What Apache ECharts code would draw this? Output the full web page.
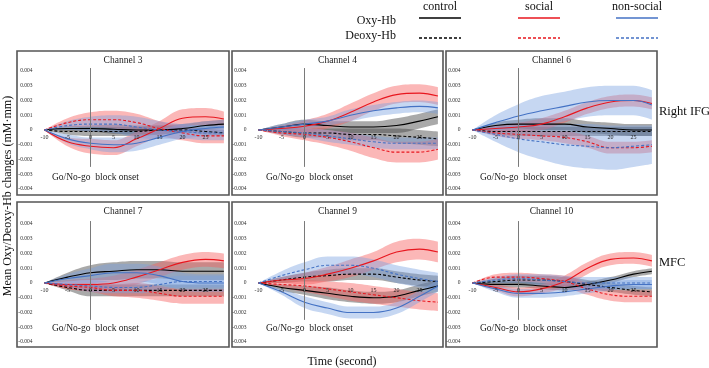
<!DOCTYPE html>
<html><head><meta charset="utf-8">
<script src="https://cdn.jsdelivr.net/npm/echarts@6/dist/echarts.min.js"></script>
<style>html,body{margin:0;padding:0;background:#fff}#c{width:709px;height:368px}</style>
</head><body><div id="c"></div>
<script>
// ---- data ----
const times = [-10, -5, 0, 5, 10, 15, 20, 25, 29];
const channels = ['Channel 3', 'Channel 4', 'Channel 6', 'Channel 7', 'Channel 9', 'Channel 10'];
const conditions = ['control', 'social', 'non-social'];
const hbTypes = ['Oxy-Hb', 'Deoxy-Hb'];
const regionLabels = ['Right IFG', 'MFC'];
const onsetLine = [[0, 0.0042], [0, -0.0025]];

// Channel 3
const ch3_control_oxy = [0, 0.0001, 0.0001, 0.00005, 0, 0, 0.0001, 0.0003, 0.0004];
const ch3_control_deoxy = [0, -0.0001, -0.0001, -0.0001, -0.0001, 0, 0, -0.0001, -0.0002];
const ch3_social_oxy = [0, -0.0008, -0.0011, -0.0012, -0.0006, 0.0001, 0.0008, 0.0009, 0.00075];
const ch3_social_deoxy = [0, 0.0005, 0.0007, 0.0007, 0.0005, 0.0001, -0.0002, -0.0004, -0.0004];
const ch3_nonsocial_oxy = [0, -0.0006, -0.0009, -0.001, -0.0009, -0.0005, -0.0001, 0.0001, 0.0002];
const ch3_nonsocial_deoxy = [0, 0.0003, 0.0004, 0.0004, 0.0002, 0, -0.0001, -0.0002, -0.0002];
const ch3_control_oxy_se = [0, 0.00015, 0.0002, 0.0003, 0.0003, 0.0003, 0.0003, 0.0003, 0.0003];
const ch3_control_deoxy_se = [0, 0.0002, 0.0003, 0.0003, 0.0003, 0.0003, 0.0002, 0.0002, 0.0002];
const ch3_social_oxy_se = [0, 0.0003, 0.0005, 0.0005, 0.0005, 0.0005, 0.0006, 0.0006, 0.0005];
const ch3_social_deoxy_se = [0, 0.0003, 0.0005, 0.0006, 0.0006, 0.0005, 0.0005, 0.0005, 0.0005];
const ch3_nonsocial_oxy_se = [0, 0.0003, 0.0004, 0.0005, 0.0005, 0.0005, 0.0005, 0.0005, 0.0005];
const ch3_nonsocial_deoxy_se = [0, 0.0003, 0.0005, 0.0006, 0.0007, 0.0006, 0.0005, 0.0005, 0.0005];

// Channel 4
const ch4_control_oxy = [0, 0.0002, 0.0004, 0.0003, 0.0002, 0.0002, 0.0003, 0.0006, 0.0009];
const ch4_control_deoxy = [0, -0.0001, -0.0002, -0.0002, -0.0003, -0.0003, -0.0004, -0.0005, -0.0006];
const ch4_social_oxy = [0, 0.0001, 0.00025, 0.0006, 0.0012, 0.0019, 0.0024, 0.0025, 0.0023];
const ch4_social_deoxy = [0, -0.0002, -0.0003, -0.0005, -0.0008, -0.0012, -0.0015, -0.0015, -0.0013];
const ch4_nonsocial_oxy = [0, 0.0002, 0.0004, 0.0006, 0.001, 0.0013, 0.0015, 0.0016, 0.0015];
const ch4_nonsocial_deoxy = [0, -0.0001, -0.0002, -0.0004, -0.0006, -0.0008, -0.0009, -0.0009, -0.0009];
const ch4_control_oxy_se = [0, 0.0002, 0.0003, 0.0003, 0.0004, 0.0004, 0.0005, 0.0005, 0.0005];
const ch4_control_deoxy_se = [0, 0.0002, 0.0003, 0.0003, 0.0004, 0.0004, 0.0005, 0.0005, 0.0005];
const ch4_social_oxy_se = [0, 0.0002, 0.0004, 0.0005, 0.0006, 0.0006, 0.0006, 0.0006, 0.0006];
const ch4_social_deoxy_se = [0, 0.0002, 0.0004, 0.0005, 0.0006, 0.0007, 0.0007, 0.0007, 0.0007];
const ch4_nonsocial_oxy_se = [0, 0.0002, 0.0003, 0.0003, 0.0004, 0.0004, 0.0004, 0.0004, 0.0004];
const ch4_nonsocial_deoxy_se = [0, 0.0002, 0.0003, 0.0004, 0.0004, 0.0004, 0.0004, 0.0004, 0.0004];

// Channel 6
const ch6_control_oxy = [0, 0.0003, 0.0004, 0.0004, 0.0004, 0.0002, 0.0001, 0, 0];
const ch6_control_deoxy = [0, -0.0001, -0.0001, -0.0001, -0.0001, -0.0001, -0.0001, -0.0001, -0.0001];
const ch6_social_oxy = [0, 0.0001, 0.0002, 0.0004, 0.0009, 0.0015, 0.0019, 0.002, 0.0018];
const ch6_social_deoxy = [0, -0.0002, -0.0003, -0.0004, -0.0005, -0.0008, -0.0012, -0.0012, -0.0011];
const ch6_nonsocial_oxy = [0, 0.0005, 0.00095, 0.0013, 0.0016, 0.0019, 0.002, 0.002, 0.0017];
const ch6_nonsocial_deoxy = [0, -0.0003, -0.0006, -0.0008, -0.001, -0.0011, -0.0012, -0.0011, -0.001];
const ch6_control_oxy_se = [0, 0.0002, 0.0003, 0.0004, 0.0004, 0.0004, 0.0004, 0.0004, 0.0004];
const ch6_control_deoxy_se = [0, 0.0002, 0.0003, 0.0003, 0.0003, 0.0003, 0.0003, 0.0003, 0.0003];
const ch6_social_oxy_se = [0, 0.0002, 0.0003, 0.0004, 0.0004, 0.0004, 0.0004, 0.0004, 0.0004];
const ch6_social_deoxy_se = [0, 0.0002, 0.0003, 0.0003, 0.0004, 0.0004, 0.0004, 0.0004, 0.0004];
const ch6_nonsocial_oxy_se = [0, 0.0005, 0.0008, 0.001, 0.001, 0.001, 0.001, 0.001, 0.001];
const ch6_nonsocial_deoxy_se = [0, 0.0005, 0.0009, 0.0012, 0.0014, 0.0015, 0.0015, 0.0014, 0.0013];

// Channel 7
const ch7_control_oxy = [0, 0.0004, 0.0007, 0.0008, 0.0009, 0.0009, 0.0008, 0.0008, 0.0008];
const ch7_control_deoxy = [0, -0.0003, -0.0005, -0.0005, -0.0005, -0.0005, -0.0005, -0.0005, -0.0005];
const ch7_social_oxy = [0, -0.0001, -0.0001, 0, 0.0004, 0.0009, 0.0014, 0.0016, 0.0015];
const ch7_social_deoxy = [0, -0.0002, -0.0003, -0.0005, -0.0005, -0.0007, -0.0009, -0.0009, -0.0009];
const ch7_nonsocial_oxy = [0, 0.0003, 0.0005, 0.0007, 0.0007, 0.0005, 0.0001, 0, 0];
const ch7_nonsocial_deoxy = [0, -0.0001, -0.0002, -0.0003, -0.0003, -0.0001, 0.0001, 0.0001, 0.0001];
const ch7_control_oxy_se = [0, 0.0003, 0.0005, 0.0006, 0.0006, 0.0006, 0.0006, 0.0006, 0.0006];
const ch7_control_deoxy_se = [0, 0.0002, 0.0004, 0.0004, 0.0004, 0.0004, 0.0004, 0.0004, 0.0004];
const ch7_social_oxy_se = [0, 0.0003, 0.0004, 0.0005, 0.0005, 0.0005, 0.0005, 0.0005, 0.0005];
const ch7_social_deoxy_se = [0, 0.0002, 0.0003, 0.0004, 0.0005, 0.0005, 0.0005, 0.0005, 0.0005];
const ch7_nonsocial_oxy_se = [0, 0.0003, 0.0005, 0.0006, 0.0006, 0.0006, 0.0006, 0.0006, 0.0006];
const ch7_nonsocial_deoxy_se = [0, 0.0002, 0.0004, 0.0004, 0.0004, 0.0004, 0.0004, 0.0004, 0.0004];

// Channel 9
const ch9_control_oxy = [0, -0.0003, -0.0005, -0.0007, -0.0009, -0.001, -0.0009, -0.0005, -0.0002];
const ch9_control_deoxy = [0, 0.0002, 0.0004, 0.0005, 0.0006, 0.0006, 0.0004, 0.0002, 0.0001];
const ch9_social_oxy = [0, 0.0002, 0.0003, 0.0006, 0.001, 0.0015, 0.0021, 0.0023, 0.0021];
const ch9_social_deoxy = [0, -0.0001, -0.0002, -0.0004, -0.0006, -0.0008, -0.001, -0.0012, -0.0013];
const ch9_nonsocial_oxy = [0, -0.0006, -0.0013, -0.0017, -0.002, -0.002, -0.0017, -0.0009, -0.0002];
const ch9_nonsocial_deoxy = [0, 0.0005, 0.0009, 0.0012, 0.0012, 0.001, 0.0006, 0.0003, 0.0001];
const ch9_control_oxy_se = [0, 0.0002, 0.0003, 0.0004, 0.0004, 0.0004, 0.0004, 0.0004, 0.0004];
const ch9_control_deoxy_se = [0, 0.0002, 0.0003, 0.0004, 0.0004, 0.0004, 0.0004, 0.0004, 0.0004];
const ch9_social_oxy_se = [0, 0.0002, 0.0004, 0.0005, 0.0006, 0.0006, 0.0007, 0.0007, 0.0007];
const ch9_social_deoxy_se = [0, 0.0002, 0.0004, 0.0005, 0.0006, 0.0006, 0.0006, 0.0006, 0.0006];
const ch9_nonsocial_oxy_se = [0, 0.0002, 0.0004, 0.0004, 0.0004, 0.0004, 0.0004, 0.0004, 0.0004];
const ch9_nonsocial_deoxy_se = [0, 0.0003, 0.0005, 0.0006, 0.0006, 0.0006, 0.0006, 0.0006, 0.0006];

// Channel 10
const ch10_control_oxy = [0, -0.0001, -0.0001, -0.0002, -0.0003, -0.0001, 0.0002, 0.0006, 0.0008];
const ch10_control_deoxy = [0, 0.0001, 0.0002, 0.0002, 0.0001, -0.0001, -0.0003, -0.0005, -0.0006];
const ch10_social_oxy = [0, -0.0003, -0.0006, -0.0004, 0.0001, 0.001, 0.0016, 0.0017, 0.0015];
const ch10_social_deoxy = [0, 0.0004, 0.0004, 0.0003, 0.0001, -0.0004, -0.0008, -0.0009, -0.0009];
const ch10_nonsocial_oxy = [0, -0.0004, -0.0007, -0.0007, -0.0006, -0.0004, -0.0002, -0.0001, -0.0001];
const ch10_nonsocial_deoxy = [0, 0.0002, 0.0003, 0.0002, 0.0001, 0, 0, 0, 0];
const ch10_control_oxy_se = [0, 0.0002, 0.0002, 0.0002, 0.0002, 0.0002, 0.0002, 0.0002, 0.0002];
const ch10_control_deoxy_se = [0, 0.0002, 0.0003, 0.0003, 0.0003, 0.0003, 0.0003, 0.0003, 0.0003];
const ch10_social_oxy_se = [0, 0.0002, 0.0003, 0.0003, 0.0004, 0.0004, 0.0004, 0.0004, 0.0004];
const ch10_social_deoxy_se = [0, 0.0002, 0.0003, 0.0003, 0.0004, 0.0004, 0.0004, 0.0004, 0.0004];
const ch10_nonsocial_oxy_se = [0, 0.0002, 0.0003, 0.0003, 0.0003, 0.0003, 0.0003, 0.0003, 0.0003];
const ch10_nonsocial_deoxy_se = [0, 0.0002, 0.0003, 0.0004, 0.0004, 0.0004, 0.0004, 0.0004, 0.0004];

// ---- assembly ----
const panelData = [
  [[ch3_control_oxy, ch3_control_oxy_se, ch3_control_deoxy, ch3_control_deoxy_se],
   [ch3_social_oxy, ch3_social_oxy_se, ch3_social_deoxy, ch3_social_deoxy_se],
   [ch3_nonsocial_oxy, ch3_nonsocial_oxy_se, ch3_nonsocial_deoxy, ch3_nonsocial_deoxy_se]],
  [[ch4_control_oxy, ch4_control_oxy_se, ch4_control_deoxy, ch4_control_deoxy_se],
   [ch4_social_oxy, ch4_social_oxy_se, ch4_social_deoxy, ch4_social_deoxy_se],
   [ch4_nonsocial_oxy, ch4_nonsocial_oxy_se, ch4_nonsocial_deoxy, ch4_nonsocial_deoxy_se]],
  [[ch6_control_oxy, ch6_control_oxy_se, ch6_control_deoxy, ch6_control_deoxy_se],
   [ch6_social_oxy, ch6_social_oxy_se, ch6_social_deoxy, ch6_social_deoxy_se],
   [ch6_nonsocial_oxy, ch6_nonsocial_oxy_se, ch6_nonsocial_deoxy, ch6_nonsocial_deoxy_se]],
  [[ch7_control_oxy, ch7_control_oxy_se, ch7_control_deoxy, ch7_control_deoxy_se],
   [ch7_social_oxy, ch7_social_oxy_se, ch7_social_deoxy, ch7_social_deoxy_se],
   [ch7_nonsocial_oxy, ch7_nonsocial_oxy_se, ch7_nonsocial_deoxy, ch7_nonsocial_deoxy_se]],
  [[ch9_control_oxy, ch9_control_oxy_se, ch9_control_deoxy, ch9_control_deoxy_se],
   [ch9_social_oxy, ch9_social_oxy_se, ch9_social_deoxy, ch9_social_deoxy_se],
   [ch9_nonsocial_oxy, ch9_nonsocial_oxy_se, ch9_nonsocial_deoxy, ch9_nonsocial_deoxy_se]],
  [[ch10_control_oxy, ch10_control_oxy_se, ch10_control_deoxy, ch10_control_deoxy_se],
   [ch10_social_oxy, ch10_social_oxy_se, ch10_social_deoxy, ch10_social_deoxy_se],
   [ch10_nonsocial_oxy, ch10_nonsocial_oxy_se, ch10_nonsocial_deoxy, ch10_nonsocial_deoxy_se]]
];

const FONT = '"Liberation Serif", "Times New Roman", serif';
const lineColors = ['#000000', '#e8161e', '#4472c4'];
const bandColors = ['rgba(60,60,60,0.44)', 'rgba(245,90,90,0.44)', 'rgba(120,160,225,0.42)'];

const colX = [44.5, 258.5, 472.5];
const rowTop = [71, 224];
const boxX = [17, 232, 446];
const boxW = [212, 211, 211];
const boxTop = [51, 202];
const boxH = [144, 145];
const plotW = 179.4, plotH = 118;

const grids = [], xAxes = [], yAxes = [], series = [], graphics = [];
for (let p = 0; p < 6; p++) {
  const col = p % 3, row = Math.floor(p / 3);
  grids.push({ left: colX[col], top: rowTop[row], width: plotW, height: plotH });
  xAxes.push({
    type: 'value', gridIndex: p, min: -10, max: 29, interval: 5, z: 10,
    position: 'bottom', offset: -plotH / 2,
    axisLine: { show: false, onZero: false },
    axisTick: { show: false }, splitLine: { show: false },
    axisLabel: { fontFamily: FONT, fontSize: 6, color: '#222', margin: 4, showMaxLabel: false }
  });
  yAxes.push({
    type: 'value', gridIndex: p, min: -0.004, max: 0.004, interval: 0.001,
    axisLine: { show: false, onZero: false }, axisTick: { show: false }, splitLine: { show: false },
    axisLabel: { fontFamily: FONT, fontSize: 5.5, color: '#303030', margin: 12,
      formatter: v => Math.abs(v) < 1e-9 ? '0' : v.toFixed(3) }
  });
  // bands: stacked on the y value (dimension 0), x in dimension 1
  for (let c = 0; c < 3; c++) {
    const d = panelData[p][c];
    for (let k = 0; k < 2; k++) {
      const mean = d[k * 2], se = d[k * 2 + 1];
      const st = 'p' + p + 'c' + c + 'k' + k;
      series.push({
        type: 'line', xAxisIndex: p, yAxisIndex: p, stack: st, stackStrategy: 'all',
        encode: { x: 1, y: 0 },
        smooth: 0.4, symbol: 'none', silent: true, z: 1,
        lineStyle: { opacity: 0 },
        data: times.map((t, i) => [mean[i] - se[i], t])
      });
      series.push({
        type: 'line', xAxisIndex: p, yAxisIndex: p, stack: st, stackStrategy: 'all',
        encode: { x: 1, y: 0 },
        smooth: 0.4, symbol: 'none', silent: true, z: 1,
        lineStyle: { opacity: 0 }, areaStyle: { color: bandColors[c], opacity: 1 },
        data: times.map((t, i) => [2 * se[i], t])
      });
    }
  }
  // mean lines
  for (let c = 0; c < 3; c++) {
    const d = panelData[p][c];
    for (let k = 0; k < 2; k++) {
      series.push({
        type: 'line', xAxisIndex: p, yAxisIndex: p, smooth: 0.4, symbol: 'none', z: 3,
        lineStyle: { color: lineColors[c], width: 1.1, type: k ? [3, 2] : 'solid' },
        data: times.map((t, i) => [t, d[k * 2][i]])
      });
    }
  }
  // onset line
  series.push({
    type: 'line', xAxisIndex: p, yAxisIndex: p, symbol: 'none', clip: false, z: 4,
    lineStyle: { color: '#7a7a7a', width: 1 }, data: onsetLine
  });
  // box
  graphics.push({ type: 'rect', z: 100, shape: { x: boxX[col], y: boxTop[row], width: boxW[col], height: boxH[row] },
    style: { fill: 'none', stroke: '#555', lineWidth: 1.6 } });
  graphics.push({ type: 'text', z: 100, x: boxX[col] + boxW[col] / 2, y: boxTop[row] + 9,
    style: { text: channels[p], font: '9.5px ' + FONT, fill: '#222', textAlign: 'center', textVerticalAlign: 'middle' } });
  graphics.push({ type: 'text', z: 100, x: colX[col] + 7.5, y: boxTop[row] + 126,
    style: { text: 'Go/No-go  block onset', font: '9.5px ' + FONT, fill: '#222', textAlign: 'left', textVerticalAlign: 'middle' } });
}

// region labels
graphics.push({ type: 'text', x: 659, y: 112, style: { text: regionLabels[0], font: '12.5px ' + FONT, fill: '#111', textAlign: 'left', textVerticalAlign: 'middle' } });
graphics.push({ type: 'text', x: 659, y: 263, style: { text: regionLabels[1], font: '12.5px ' + FONT, fill: '#111', textAlign: 'left', textVerticalAlign: 'middle' } });
// axis titles
graphics.push({ type: 'text', x: 342, y: 362, style: { text: 'Time (second)', font: '12px ' + FONT, fill: '#111', textAlign: 'center', textVerticalAlign: 'middle' } });
graphics.push({ type: 'text', x: 8, y: 196, rotation: Math.PI / 2,
  style: { text: 'Mean Oxy/Deoxy-Hb changes (mM\u00B7mm)', font: '12px ' + FONT, fill: '#111', textAlign: 'center', textVerticalAlign: 'middle' } });
// legend
const legX = [440, 539, 637];
for (let c = 0; c < 3; c++) {
  graphics.push({ type: 'text', x: legX[c], y: 7, style: { text: conditions[c], font: '12px ' + FONT, fill: '#111', textAlign: 'center', textVerticalAlign: 'middle' } });
  graphics.push({ type: 'line', shape: { x1: legX[c] - 21, y1: 18, x2: legX[c] + 21, y2: 18 }, style: { stroke: lineColors[c], lineWidth: 1.6 } });
  graphics.push({ type: 'line', shape: { x1: legX[c] - 21, y1: 38, x2: legX[c] + 21, y2: 38 }, style: { stroke: lineColors[c], lineWidth: 1.6, lineDash: [3, 2] } });
}
graphics.push({ type: 'text', x: 396, y: 21, style: { text: hbTypes[0], font: '12px ' + FONT, fill: '#111', textAlign: 'right', textVerticalAlign: 'middle' } });
graphics.push({ type: 'text', x: 396, y: 36, style: { text: hbTypes[1], font: '12px ' + FONT, fill: '#111', textAlign: 'right', textVerticalAlign: 'middle' } });

const chart = echarts.init(document.getElementById('c'), null, { renderer: 'canvas' });
chart.setOption({
  animation: false,
  backgroundColor: '#fff',
  grid: grids, xAxis: xAxes, yAxis: yAxes, series: series, graphic: graphics
});
</script></body></html>
